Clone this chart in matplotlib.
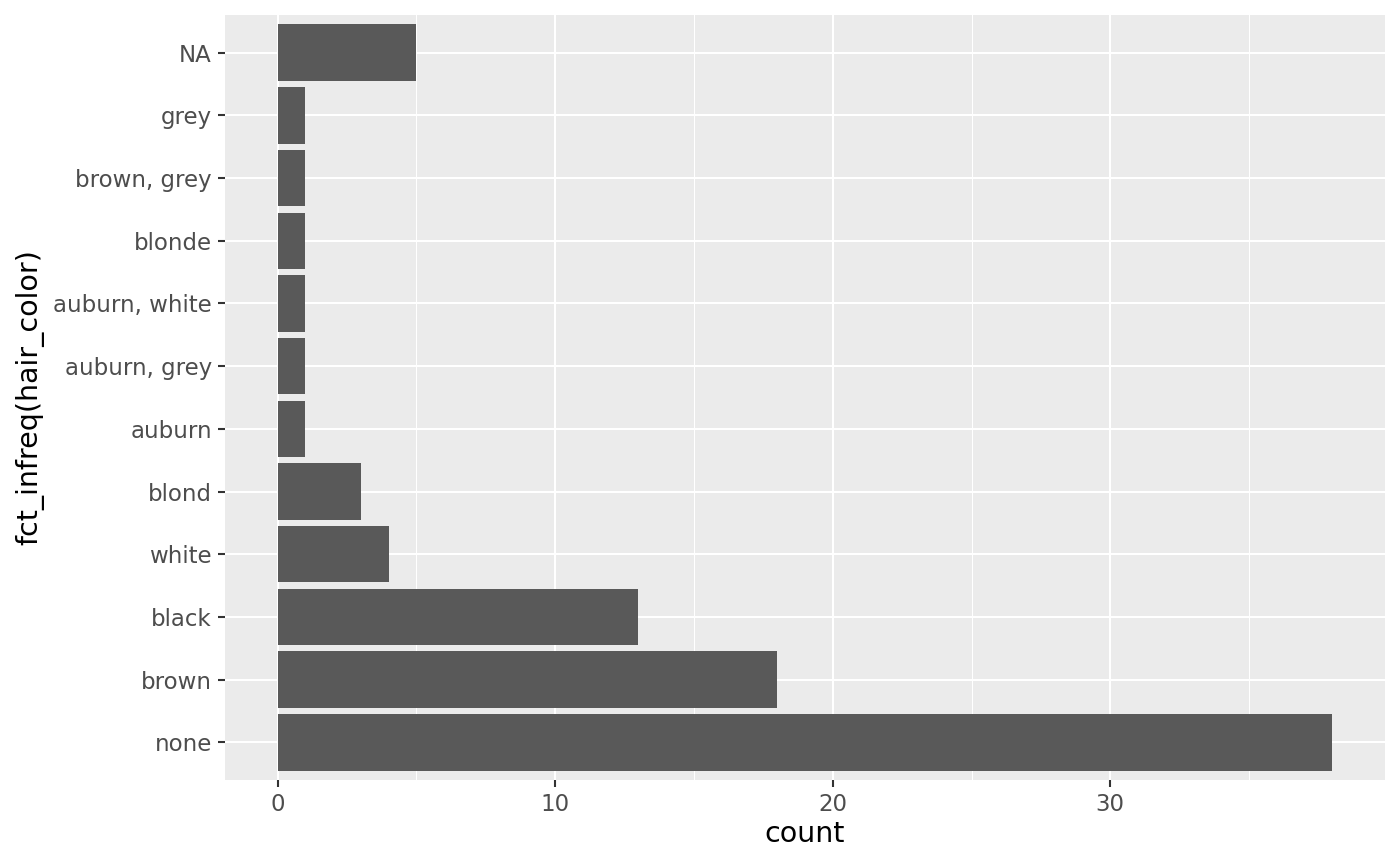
import numpy as np
import matplotlib.pyplot as plt
from matplotlib.ticker import MultipleLocator

# hair colours (bottom to top) and counts
hair_colors = ['none', 'brown', 'black', 'white', 'blond', 'auburn',
               'auburn, grey', 'auburn, white', 'blonde', 'brown, grey',
               'grey', 'NA']
counts = [38, 18, 13, 4, 3, 1, 1, 1, 1, 1, 1, 5]

fig = plt.figure(figsize=(14, 8.65), dpi=100)
ax = fig.add_axes([225 / 1400, 1 - 780 / 865, 1160 / 1400, 765 / 865])

ypos = np.arange(len(hair_colors))
ax.barh(ypos, counts, height=0.9, color='#595959', zorder=3)

# ggplot-like look
ax.set_facecolor('#EBEBEB')
for s in ax.spines.values():
    s.set_visible(False)
ax.set_xlim(-1.9, 39.9)
ax.set_ylim(-0.6, len(hair_colors) - 0.4)
ax.xaxis.set_major_locator(MultipleLocator(10))
ax.xaxis.set_minor_locator(MultipleLocator(5))
ax.grid(which='major', color='white', linewidth=1.5, zorder=0)
ax.grid(which='minor', axis='x', color='white', linewidth=0.75, zorder=0)
ax.set_axisbelow(True)

ax.set_yticks(ypos)
ax.set_yticklabels(hair_colors)
ax.tick_params(which='major', length=5, width=1.5, color='#333333',
               labelsize=16.5, labelcolor='#4D4D4D', pad=4.5)
ax.tick_params(which='minor', length=0)

ax.set_xlabel('count', fontsize=20.5, color='black', labelpad=3)
ax.set_ylabel('fct_infreq(hair_color)', fontsize=20.5, color='black', labelpad=6)

fig.savefig('out.png', dpi=100)
